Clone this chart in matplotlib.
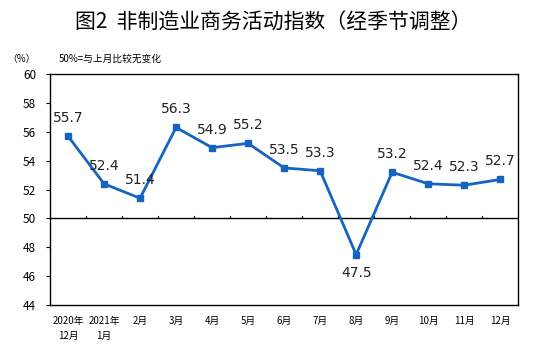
import matplotlib.pyplot as plt

plt.rcParams['font.family'] = ['Noto Sans CJK SC', 'DejaVu Sans']

# 月份标签与指数值
months = ['2020年\n12月', '2021年\n1月', '2月', '3月', '4月', '5月', '6月',
          '7月', '8月', '9月', '10月', '11月', '12月']
values = [55.7, 52.4, 51.4, 56.3, 54.9, 55.2, 53.5, 53.3, 47.5, 53.2, 52.4, 52.3, 52.7]
yticks = [44, 46, 48, 50, 52, 54, 56, 58, 60]

fig = plt.figure(figsize=(5.47, 3.54), dpi=100)
ax = fig.add_axes([0.0914, 0.138, 0.856, 0.653])

x = list(range(len(values)))
color = '#1565C0'
ax.plot(x, values, color=color, lw=2, marker='s', ms=4.5, zorder=3)

for i, v in enumerate(values):
    if v < 50:
        ax.annotate(f'{v}', (i, v), xytext=(0, -8), textcoords='offset points',
                    ha='center', va='top', fontsize=10, family='DejaVu Sans',
                    color='#222222')
    else:
        ax.annotate(f'{v}', (i, v), xytext=(0, 8), textcoords='offset points',
                    ha='center', va='bottom', fontsize=10, family='DejaVu Sans',
                    color='#222222')

# 50 基准线及分类刻度
ax.axhline(50, color='black', lw=1, zorder=2)
for b in range(1, len(values)):
    ax.plot([b - 0.5, b - 0.5], [50, 50.2], color='black', lw=0.8, zorder=2)

ax.set_xlim(-0.5, len(values) - 0.5)
ax.set_ylim(44, 60)
ax.set_yticks(yticks)
ax.set_yticklabels([str(t) for t in yticks], fontsize=8.5)
ax.tick_params(axis='y', direction='out', length=3, width=0.8, pad=7)
ax.set_xticks(x)
ax.set_xticklabels(months, fontsize=7, linespacing=1.6)
ax.tick_params(axis='x', length=0, pad=8)
for s in ax.spines.values():
    s.set_linewidth(1)

fig.text(0.5, 0.935, '图2  非制造业商务活动指数（经季节调整）', ha='center', va='center',
         fontsize=15, fontweight='medium')
fig.text(0.04, 0.833, '（%）', ha='center', va='center', fontsize=7)
fig.text(0.108, 0.833, '50%=与上月比较无变化', ha='left', va='center', fontsize=7)

fig.savefig('out.png', dpi=100)
